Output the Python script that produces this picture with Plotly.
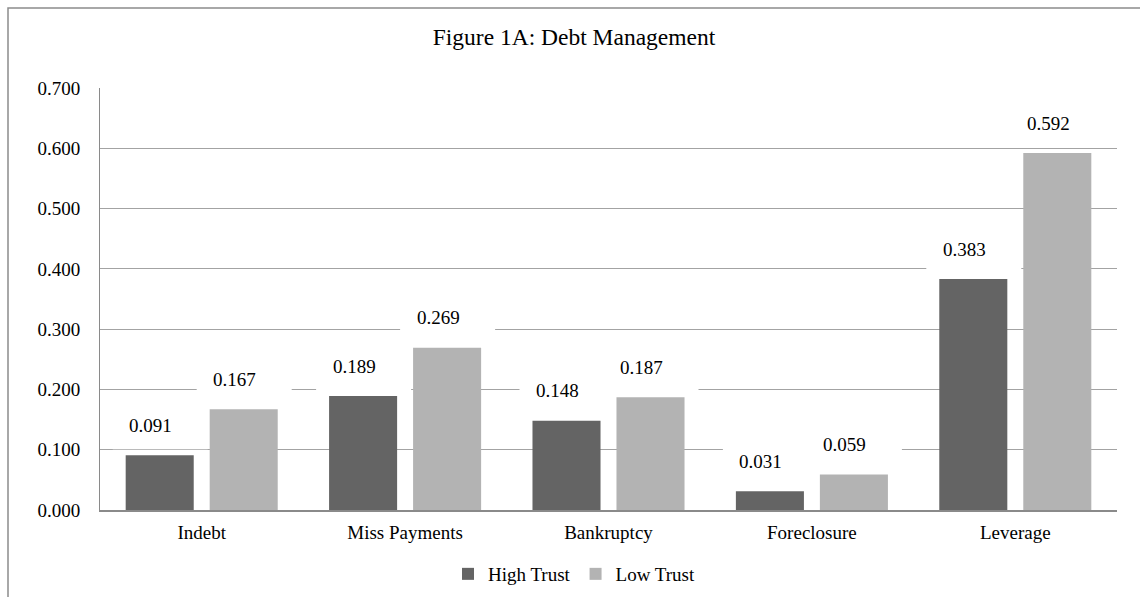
import plotly.graph_objects as go

# ---- data ----
categories = ["Indebt", "Miss Payments", "Bankruptcy", "Foreclosure", "Leverage"]
high_trust = [0.091, 0.189, 0.148, 0.031, 0.383]
low_trust = [0.167, 0.269, 0.187, 0.059, 0.592]
series_names = ["High Trust", "Low Trust"]
y_tick_values = [0.0, 0.1, 0.2, 0.3, 0.4, 0.5, 0.6, 0.7]
title_text = "Figure 1A: Debt Management"

# ---- style ----
FONT = "Liberation Serif, serif"
DARK = "#646464"
LIGHT = "#b3b3b3"
GRID = "#a3a3a3"
AXIS = "#8a8a8a"
BARGAP = 0.174
GROUPGAP = 0.19

x_idx = list(range(len(categories)))
half = (1 - BARGAP) / 4  # offset of each bar centre from the category centre

fig = go.Figure()
fig.add_bar(x=x_idx, y=high_trust, name=series_names[0], marker_color=DARK, marker_line_width=0)
fig.add_bar(x=x_idx, y=low_trust, name=series_names[1], marker_color=LIGHT, marker_line_width=0)

shapes = []
annotations = []
for series, sign in ((high_trust, -1), (low_trust, 1)):
    for i, v in enumerate(series):
        xc = i + sign * half
        shapes.append(dict(
            type="rect", xref="x", yref="y",
            xsizemode="pixel", ysizemode="pixel",
            xanchor=xc, yanchor=v,
            x0=-47, x1=48, y0=6, y1=56,
            fillcolor="white", line=dict(width=0), layer="between",
        ))
        annotations.append(dict(
            x=xc, y=v, xref="x", yref="y", text=f"{v:.3f}",
            showarrow=False, xshift=-9, yshift=30, yanchor="middle",
            font=dict(family=FONT, size=19, color="black"),
        ))

# outer chart frame (cropped at right and bottom in the reference)
shapes.append(dict(
    type="rect", xref="paper", yref="paper",
    x0=(8 - 100) / 1017, x1=1.2, y0=-0.5, y1=(510 - 8) / 422,
    line=dict(color="#8c8c8c", width=1.5), fillcolor="rgba(0,0,0,0)", layer="above",
))

fig.update_layout(
    width=1140, height=597,
    margin=dict(l=100, r=23, t=88, b=87, autoexpand=False),
    paper_bgcolor="white", plot_bgcolor="white",
    barmode="group", bargap=BARGAP, bargroupgap=GROUPGAP,
    font=dict(family=FONT, size=19, color="black"),
    title=dict(text=title_text, x=574 / 1140, xanchor="center",
               y=1 - 37 / 597, yanchor="middle", yref="container",
               font=dict(family=FONT, size=23.5, color="black")),
    showlegend=True,
    legend=dict(orientation="h", x=(574 - 100) / 1017, xanchor="center",
                y=(510 - 574) / 422, yanchor="middle",
                font=dict(family=FONT, size=19, color="black"),
                itemwidth=30, bgcolor="rgba(0,0,0,0)"),
    shapes=shapes,
    annotations=annotations,
)

fig.update_xaxes(
    tickmode="array", tickvals=x_idx, ticktext=categories,
    range=[-0.5, len(categories) - 0.5],
    showline=True, linecolor=AXIS, linewidth=2,
    showgrid=False, zeroline=False, ticks="", ticklabelstandoff=4,
    automargin=False,
    tickfont=dict(family=FONT, size=19, color="black"),
)
fig.update_yaxes(
    range=[0, 0.7], tickmode="array", tickvals=y_tick_values,
    tickformat=".3f",
    showline=True, linecolor=AXIS, linewidth=1,
    showgrid=True, gridcolor=GRID, gridwidth=1,
    zeroline=False, ticks="", ticklabelstandoff=15,
    automargin=False,
    tickfont=dict(family=FONT, size=19, color="black"),
)

fig.write_html("out.html")
